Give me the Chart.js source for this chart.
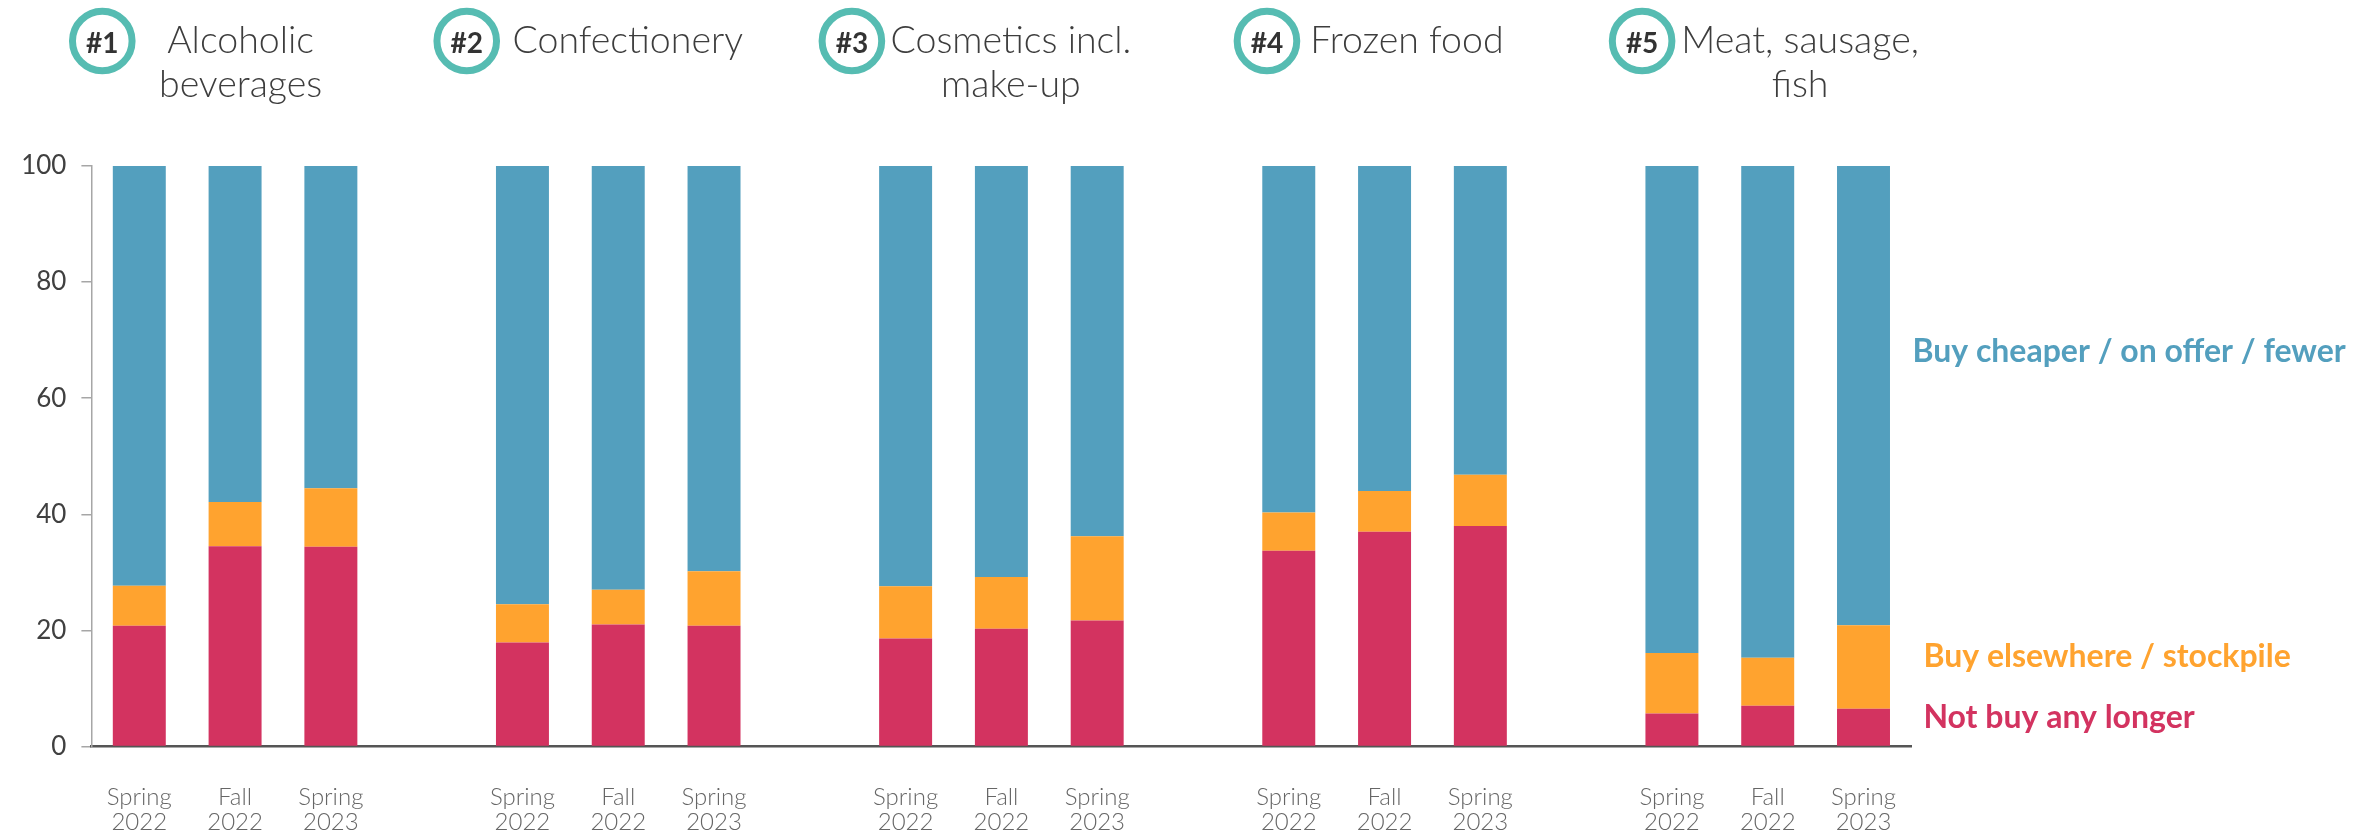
<!DOCTYPE html>
<html>
<head>
<meta charset="utf-8">
<script src="https://cdn.jsdelivr.net/npm/chart.js@4.4.1/dist/chart.umd.min.js"></script>
<style>
  html, body { margin: 0; padding: 0; background: #fff; }
  #wrap { width: 2374px; height: 837px; }
</style>
</head>
<body>
<div id="wrap"><canvas id="chart" width="2374" height="837"></canvas></div>
<script>
// product categories, ranked; each gets three survey waves
const categories = [['Alcoholic', 'beverages'], ['Confectionery'], ['Cosmetics incl.', 'make-up'], ['Frozen food'], ['Meat, sausage,', 'fish']];
const ranks = ['#1', '#2', '#3', '#4', '#5'];
const periods = [['Spring', '2022'], ['Fall', '2022'], ['Spring', '2023']];

// shares in %, per category in wave order
const notBuyAnyLonger = [20.8, 34.5, 34.4, 17.9, 21.0, 20.8, 18.6, 20.3, 21.7, 33.7, 37.0, 38.0, 5.7, 7.0, 6.5];
const buyElsewhere = [6.9, 7.6, 10.1, 6.6, 6.0, 9.4, 9.0, 8.9, 14.5, 6.6, 7.0, 8.8, 10.4, 8.3, 14.4];
const buyCheaper = [72.3, 57.9, 55.5, 75.5, 73.0, 69.8, 72.4, 70.8, 63.8, 59.7, 56.0, 53.2, 83.9, 84.7, 79.1];

const seriesNames = ['Not buy any longer', 'Buy elsewhere / stockpile', 'Buy cheaper / on offer / fewer'];
const yTicks = [0, 20, 40, 60, 80, 100];

const colors = {
  notBuy: '#d33360',
  elsewhere: '#ffa32f',
  cheaper: '#539fbe',
  badge: '#56bcb2',
  text: '#3d3d3d'
};

// one empty slot between category groups
function spread(values, gap) {
  const out = [];
  categories.forEach((c, g) => {
    if (g > 0) out.push(gap);
    periods.forEach((p, i) => out.push(values[g * periods.length + i]));
  });
  return out;
}

const labels = spread(categories.flatMap(() => periods), '');

// title badge and title text offsets from each group's middle bar
const badgeShift = [-132.8, -151.5, -149.5, -117.6, -125.6];
const titleShift = [5.5, 9.5, 9.5, 22.4, 32.4];

const headerPlugin = {
  id: 'header',
  afterDraw(chart) {
    const ctx = chart.ctx;
    const x = chart.scales.x;
    ctx.save();
    categories.forEach((lines, g) => {
      const mid = x.getPixelForValue(g * (periods.length + 1) + 1);
      const bx = mid + badgeShift[g];
      ctx.beginPath();
      ctx.arc(bx, 41, 29.8, 0, Math.PI * 2);
      ctx.lineWidth = 7;
      ctx.strokeStyle = colors.badge;
      ctx.stroke();
      ctx.fillStyle = '#333';
      ctx.font = 'bold 28px Lato';
      ctx.textAlign = 'center';
      ctx.textBaseline = 'alphabetic';
      ctx.fillText(ranks[g], bx, 52.5);

      ctx.fillStyle = colors.text;
      ctx.font = '300 37.5px Lato';
      lines.forEach((line, i) => ctx.fillText(line, mid + titleShift[g], 53 + i * 44));
    });

    // series names beside the bars
    const right = chart.chartArea.right;
    ctx.font = 'bold 32px Lato';
    ctx.textAlign = 'left';
    ctx.fillStyle = colors.cheaper;
    ctx.fillText(seriesNames[2], right + 1, 362);
    ctx.fillStyle = colors.elsewhere;
    ctx.fillText(seriesNames[1], right + 12, 667);
    ctx.fillStyle = colors.notBuy;
    ctx.fillText(seriesNames[0], right + 12, 728);
    ctx.restore();
  }
};

const barDefaults = { barPercentage: 0.553, categoryPercentage: 1, borderWidth: 0, stack: 'share' };

new Chart(document.getElementById('chart'), {
  type: 'bar',
  data: {
    labels: labels,
    datasets: [
      { label: seriesNames[0], data: spread(notBuyAnyLonger, null), backgroundColor: colors.notBuy, ...barDefaults },
      { label: seriesNames[1], data: spread(buyElsewhere, null), backgroundColor: colors.elsewhere, ...barDefaults },
      { label: seriesNames[2], data: spread(buyCheaper, null), backgroundColor: colors.cheaper, ...barDefaults }
    ]
  },
  options: {
    responsive: false,
    animation: false,
    devicePixelRatio: 1,
    layout: { padding: { top: 166, right: 462.6, left: 0, bottom: 0 } },
    plugins: { legend: { display: false }, tooltip: { enabled: false } },
    scales: {
      x: {
        stacked: true,
        z: 1,
        afterFit: s => { s.height = 90.5; },
        grid: { display: false },
        border: { color: '#555', width: 2.5 },
        ticks: {
          autoSkip: false,
          maxRotation: 0,
          padding: 30,
          color: '#666',
          font: { family: 'Lato', size: 24, weight: 300, lineHeight: 1.05 }
        }
      },
      y: {
        stacked: true,
        min: 0,
        max: 100,
        afterFit: s => { s.width = 91.4; },
        afterBuildTicks: s => { s.ticks = yTicks.map(v => ({ value: v })); },
        grid: { drawOnChartArea: false, drawTicks: true, tickLength: 10, color: '#a6a6a6', lineWidth: 1.5 },
        border: { color: '#a6a6a6', width: 1.5 },
        ticks: {
          padding: 15,
          color: '#404040',
          font: { family: 'Lato', size: 26 }
        }
      }
    }
  },
  plugins: [headerPlugin]
});
</script>
</body>
</html>
